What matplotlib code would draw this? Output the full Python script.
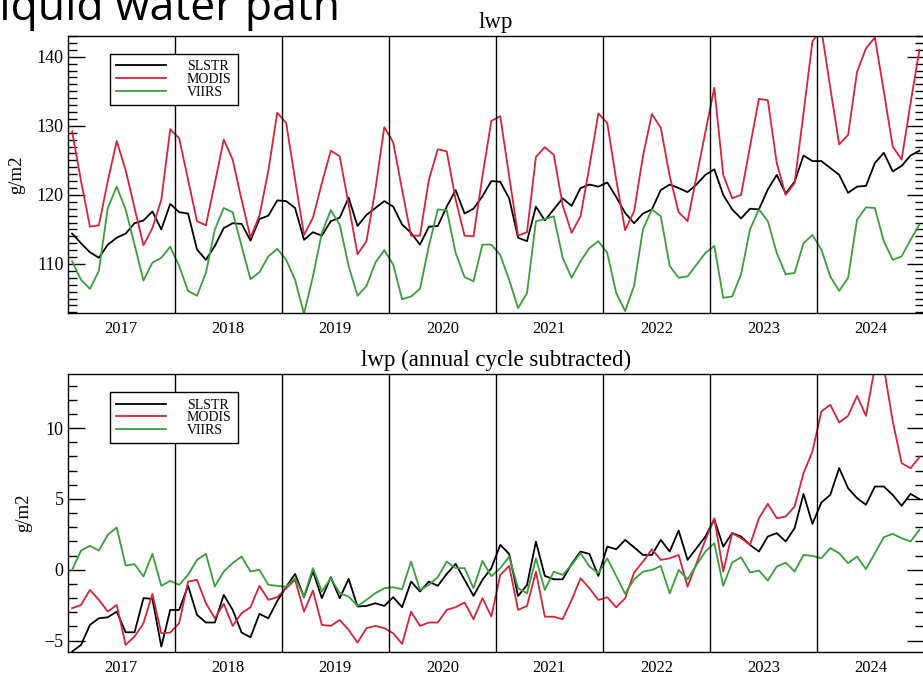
import numpy as np
import matplotlib
matplotlib.use("Agg")
import matplotlib.pyplot as plt
from matplotlib.ticker import MultipleLocator

# monthly values Jan 2017 .. Dec 2024
years = list(range(2017, 2025))
month_t = 2017 + (np.arange(96) + 0.5) / 12

lwp_slstr = [
    114.4, 113.0, 111.7, 110.9, 112.8, 113.8, 114.4, 115.9, 116.3, 117.6, 115.0, 118.7,
    117.5, 117.3, 112.1, 110.6, 112.6, 115.2, 115.9, 115.8, 113.4, 116.5, 117.0, 119.2,
    119.1, 118.1, 113.5, 114.6, 114.1, 116.2, 116.7, 119.6, 115.5, 117.1, 118.1, 119.1,
    118.3, 115.7, 114.5, 112.8, 115.4, 115.5, 118.3, 120.7, 117.3, 118.0, 119.8, 122.0,
    121.9, 119.5, 113.8, 113.3, 118.3, 116.3, 117.9, 119.5, 118.4, 121.0, 121.5, 121.2,
    121.8, 119.7, 117.4, 115.9, 117.3, 117.9, 120.7, 121.5, 121.0, 120.4, 121.5, 122.9,
    123.7, 120.0, 117.9, 116.6, 118.0, 117.9, 120.8, 122.9, 120.2, 121.9, 125.7, 124.9,
    124.9, 123.9, 122.9, 120.3, 121.2, 121.3, 124.6, 126.1, 123.4, 124.2, 125.7, 126.4,
]
lwp_modis = [
    129.2, 122.0, 115.4, 115.6, 122.0, 127.8, 123.6, 118.1, 112.7, 115.2, 119.3, 129.5,
    128.2, 122.2, 116.2, 115.6, 121.7, 128.0, 125.1, 119.3, 113.8, 117.0, 123.5, 131.9,
    130.4, 122.2, 114.2, 116.7, 121.7, 126.4, 125.6, 118.6, 111.4, 113.3, 120.8, 129.8,
    127.6, 120.7, 114.1, 114.1, 122.2, 126.6, 126.3, 119.3, 114.1, 114.0, 122.7, 130.7,
    131.4, 122.7, 114.1, 114.6, 125.5, 126.9, 125.8, 118.5, 114.5, 116.9, 124.1, 131.8,
    130.4, 122.2, 114.9, 117.6, 125.6, 131.7, 129.7, 122.7, 117.5, 116.2, 122.6, 129.1,
    135.5, 122.9, 119.5, 120.0, 127.0, 133.9, 133.7, 124.6, 120.0, 121.7, 131.8, 142.2,
    144.0, 135.5, 127.3, 128.7, 137.8, 141.2, 142.8, 135.0, 127.0, 125.1, 133.3, 141.0,
]
lwp_viirs = [
    110.4, 107.7, 106.4, 109.0, 118.1, 121.2, 117.9, 112.8, 107.6, 110.2, 110.9, 112.5,
    109.7, 106.1, 105.4, 108.7, 115.0, 118.1, 117.5, 112.6, 107.8, 108.8, 111.1, 112.2,
    110.6, 107.7, 102.8, 108.2, 114.5, 117.8, 115.7, 109.7, 105.4, 106.8, 110.2, 112.0,
    109.9, 104.9, 105.3, 106.4, 112.6, 117.9, 117.8, 111.6, 108.1, 107.5, 112.8, 112.8,
    111.3, 107.7, 103.6, 105.8, 116.2, 116.5, 116.9, 110.9, 108.0, 110.4, 112.3, 113.3,
    111.6, 105.8, 103.2, 106.8, 115.0, 117.9, 116.9, 109.7, 108.0, 108.2, 109.9, 111.6,
    112.6, 105.1, 105.3, 108.5, 115.0, 117.9, 116.2, 111.6, 108.5, 108.7, 113.0, 114.2,
    112.1, 108.2, 106.1, 108.0, 116.4, 118.2, 118.1, 113.3, 110.6, 111.1, 113.5, 115.7,
]

anom_slstr = [
    -5.77, -5.3, -3.89, -3.42, -3.35, -2.95, -4.41, -4.41, -2.0, -2.05, -5.42, -2.83,
    -2.83, -1.13, -3.18, -3.72, -3.72, -1.77, -2.83, -4.43, -4.76, -3.11, -3.42, -2.2,
    -1.2, -0.29, -1.93, -0.1, -2.0, -0.52, -2.0, -0.64, -2.59, -2.55, -2.36, -2.55,
    -1.93, -2.64, -0.83, -1.53, -0.83, -1.13, -0.29, 0.42, -0.71, -1.84, -0.71, 0.12,
    1.76, 1.12, -1.85, -1.07, 1.99, -0.43, -0.67, -0.67, 0.41, 1.29, 1.12, -0.43,
    1.64, 1.45, 2.11, 1.59, 1.05, 1.05, 2.11, 1.29, 2.77, 0.70, 1.52, 2.35,
    3.55, 1.64, 2.59, 2.35, 1.76, 1.29, 2.35, 2.59, 2.0, 2.94, 5.36, 3.24,
    4.75, 5.29, 7.18, 5.76, 5.06, 4.59, 5.88, 5.88, 5.29, 4.52, 5.36, 4.99,
]
anom_modis = [
    -2.71, -2.48, -1.42, -2.12, -2.95, -2.48, -5.30, -4.71, -3.77, -1.70, -4.48, -4.43,
    -3.77, -0.83, -0.71, -2.36, -3.42, -2.40, -3.96, -3.06, -2.64, -1.13, -2.12, -1.93,
    -1.3, -0.71, -2.95, -1.46, -3.89, -3.96, -3.54, -4.24, -5.14, -4.12, -3.96, -4.12,
    -4.48, -5.23, -2.95, -3.96, -3.72, -3.72, -2.83, -2.64, -2.31, -3.49, -2.0, -3.3,
    -0.36, 0.27, -2.83, -2.55, -0.13, -3.31, -3.31, -3.49, -2.13, -0.6, -1.3, -2.13,
    -1.94, -2.65, -2.01, -0.2, 0.58, 1.45, 0.7, 0.81, 1.05, -1.19, 0.46, 2.11,
    3.64, -0.12, 2.59, 2.23, 1.76, 3.64, 4.66, 3.64, 3.76, 4.47, 6.82, 8.35,
    11.18, 11.65, 10.40, 10.87, 12.28, 10.87, 14.3, 14.3, 10.5, 7.53, 7.17, 7.95,
]
anom_viirs = [
    0.0, 1.36, 1.69, 1.36, 2.47, 2.99, 0.30, 0.40, -0.47, 1.13, -1.13, -0.78,
    -1.06, -0.36, 0.70, 1.13, -1.18, -0.12, 0.47, 0.94, -0.12, 0.0, -1.06, -1.13,
    -1.2, -0.59, -1.89, 0.12, -1.53, -0.59, -1.65, -1.89, -2.55, -2.12, -1.65, -1.3,
    -1.23, -1.37, 0.58, -1.42, -1.06, -0.52, 0.58, 0.12, 0.12, -1.3, 0.63, -0.45,
    0.11, 0.93, -1.3, -1.66, 0.81, -1.42, -0.13, -0.36, 0.34, 1.17, 0.23, -0.24,
    0.81, -0.43, -1.7, -0.67, -0.13, -0.01, 0.27, -1.66, -0.01, -0.67, 0.34, 1.29,
    1.88, -1.13, 0.51, 0.89, -0.19, -0.05, -0.76, 0.23, 0.51, -0.12, 1.05, 0.98,
    0.82, 1.53, 1.17, 0.47, 0.94, 0.05, 1.17, 2.30, 2.54, 2.23, 2.0, 2.82,
]

colors = {"SLSTR": "black", "MODIS": "#d4253a", "VIIRS": "#3a9e3c"}

plt.rcParams["font.family"] = "Liberation Serif"


def draw_panel(ax, series, title, ylim, major):
    for name, vals in series:
        ax.plot(month_t, vals, color=colors[name], lw=1.3, label=name)
    for y in years[1:]:
        ax.axvline(y, color="black", lw=1.0)
    ax.set_xlim(2017, 2025)
    ax.set_ylim(*ylim)
    ax.set_xticks([y + 0.5 for y in years])
    ax.set_xticklabels([str(y) for y in years])
    ax.tick_params(axis="x", length=0, pad=6, labelsize=12)
    ax.yaxis.set_major_locator(MultipleLocator(major))
    ax.yaxis.set_minor_locator(MultipleLocator(1))
    ax.tick_params(axis="y", which="both", direction="in", left=True, right=True,
                   labelsize=13, pad=3, width=1.0)
    ax.tick_params(axis="y", which="major", length=12)
    ax.tick_params(axis="y", which="minor", length=6.5)
    for sp in ax.spines.values():
        sp.set_linewidth(1.0)
    ax.set_ylabel("g/m2", fontsize=13.5)
    ax.set_title(title, fontsize=16.5, pad=6)
    leg = ax.legend(loc="upper left", bbox_to_anchor=(0.049, 0.935), borderaxespad=0,
                    fontsize=10, handlelength=3.6, handletextpad=1.5, labelspacing=-0.02,
                    borderpad=0.45, fancybox=False, framealpha=1, edgecolor="black")
    leg.get_frame().set_linewidth(1.0)


fig = plt.figure(figsize=(9.23, 6.78), dpi=100)
ax1 = fig.add_axes([0.0733, 0.5383, 0.9277, 0.4086])
ax2 = fig.add_axes([0.0733, 0.0388, 0.9277, 0.4091])

draw_panel(ax1, [("SLSTR", lwp_slstr), ("MODIS", lwp_modis), ("VIIRS", lwp_viirs)],
           "lwp", (102.9, 143.0), 10)
draw_panel(ax2, [("SLSTR", anom_slstr), ("MODIS", anom_modis), ("VIIRS", anom_viirs)],
           "lwp (annual cycle subtracted)", (-5.78, 13.8), 5)

ax1.yaxis.set_label_coords(-0.05, 0.5)
ax2.yaxis.set_label_coords(-0.041, 0.5)

# slide heading, cut off at the top-left corner as in the source
fig.text(-0.026, 0.9705, "Liquid water path", fontsize=32, family="Open Sans",
         va="baseline", ha="left")

fig.savefig("out.png", dpi=100)
